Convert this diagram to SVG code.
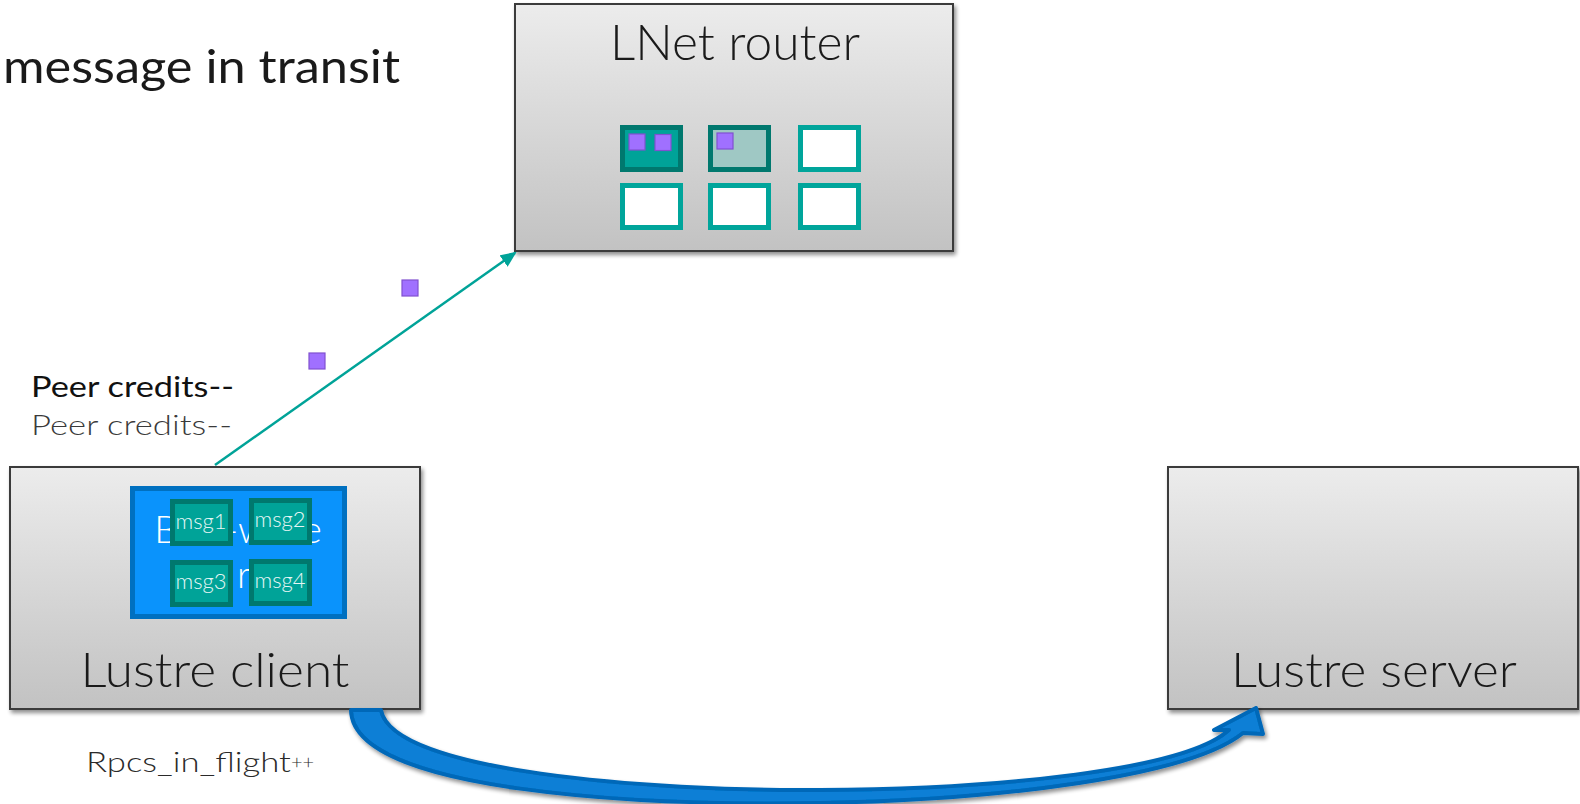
<svg xmlns="http://www.w3.org/2000/svg" width="1580" height="804" viewBox="0 0 1580 804">
<style>
text{font-family:Lato,"Open Sans","Liberation Sans",sans-serif;}
.big{font-size:47px;font-weight:300;fill:#1a1a1a;}
.box{stroke:#3a3a3a;stroke-width:2;fill:url(#g);}
.slotA{fill:#00a398;stroke:#00786e;stroke-width:5;}
.slotB{fill:#9fc8c4;stroke:#00786e;stroke-width:5;}
.slotE{fill:#ffffff;stroke:#00a59b;stroke-width:5;}
.pu{fill:#a070ff;stroke:#8050d0;stroke-width:1.2;}
.msg{fill:#00a398;stroke:#00786e;stroke-width:5;}
.mt{font-size:22px;fill:#e6f6f4;text-anchor:middle;font-weight:300;}
</style>
<defs>
<linearGradient id="g" x1="0" y1="0" x2="0" y2="1">
<stop offset="0" stop-color="#ececec"/>
<stop offset="1" stop-color="#c2c2c2"/>
</linearGradient>
<filter id="sh" x="-5%" y="-5%" width="115%" height="115%">
<feGaussianBlur in="SourceAlpha" stdDeviation="2"/>
<feOffset dx="2" dy="3" result="b"/>
<feComponentTransfer><feFuncA type="linear" slope="0.45"/></feComponentTransfer>
<feMerge><feMergeNode/><feMergeNode in="SourceGraphic"/></feMerge>
</filter>
<marker id="ah" markerWidth="16" markerHeight="14" refX="14" refY="7" orient="auto" markerUnits="userSpaceOnUse" viewBox="0 0 16 14">
<path d="M0,0 L16,7 L0,14 Z" fill="#00a398"/>
</marker>
</defs>
<rect width="1580" height="804" fill="#ffffff"/>

<text x="3" y="83" class="big" style="font-weight:400" textLength="397" lengthAdjust="spacingAndGlyphs">message in transit</text>

<g id="lnet-router">
<rect x="515" y="4" width="438" height="247" class="box" filter="url(#sh)"/>
<text x="735" y="60" class="big" text-anchor="middle" style="font-size:49px" textLength="250" lengthAdjust="spacingAndGlyphs">LNet router</text>
<rect x="622.5" y="127.5" width="58" height="42" class="slotA"/>
<rect x="710.5" y="127.5" width="58" height="42" class="slotB"/>
<rect x="800.5" y="127.5" width="58" height="42" class="slotE"/>
<rect x="622.5" y="185.5" width="58" height="42" class="slotE"/>
<rect x="710.5" y="185.5" width="58" height="42" class="slotE"/>
<rect x="800.5" y="185.5" width="58" height="42" class="slotE"/>
<rect x="629" y="134" width="16" height="16" class="pu"/>
<rect x="655" y="134.5" width="16" height="16" class="pu"/>
<rect x="717" y="133" width="16" height="16" class="pu"/>
</g>

<g id="lustre-client">
<rect x="10" y="467" width="410" height="242" class="box" filter="url(#sh)"/>
<rect x="132.5" y="488.5" width="212" height="128" fill="#0a93fc" stroke="#0070c0" stroke-width="5"/>
<text x="238" y="543" font-size="38" font-weight="300" fill="#ffffff" text-anchor="middle">Bulk-write</text>
<text x="237" y="588" font-size="38" font-weight="300" fill="#ffffff">rpc</text>
<rect x="172.5" y="501.5" width="58" height="42" class="msg"/>
<rect x="251.5" y="500.5" width="58" height="42" class="msg"/>
<rect x="172.5" y="562.5" width="58" height="42" class="msg"/>
<rect x="251.5" y="561.5" width="58" height="42" class="msg"/>
<text x="201" y="529" class="mt">msg1</text>
<text x="280" y="527" class="mt">msg2</text>
<text x="201" y="589" class="mt">msg3</text>
<text x="280" y="588" class="mt">msg4</text>
<text x="215" y="687" class="big" text-anchor="middle" textLength="269" lengthAdjust="spacingAndGlyphs">Lustre client</text>
</g>

<g id="lustre-server">
<rect x="1168" y="467" width="410" height="242" class="box" filter="url(#sh)"/>
<text x="1374" y="687" class="big" text-anchor="middle" textLength="286" lengthAdjust="spacingAndGlyphs">Lustre server</text>
</g>

<g id="packets">
<rect x="402" y="280" width="16" height="16" class="pu"/>
<rect x="309" y="353" width="16" height="16" class="pu"/>
</g>

<g id="labels">
<text x="31" y="397" font-size="28" fill="#111111" textLength="203" lengthAdjust="spacingAndGlyphs">Peer credits--</text>
<text x="31" y="435" font-size="28" font-weight="300" fill="#3a3a3a" textLength="201" lengthAdjust="spacingAndGlyphs">Peer credits--</text>
<text x="86" y="772" font-size="28" font-weight="300" fill="#2a2a2a"><tspan textLength="205" lengthAdjust="spacingAndGlyphs">Rpcs_in_flight</tspan><tspan font-size="20" dy="-3">++</tspan></text>
</g>

<g id="connectors">
<line x1="215" y1="465" x2="515" y2="253" stroke="#00a398" stroke-width="2.5" marker-end="url(#ah)"/>
<path d="M351,710 C352,792 640,806 820,803 C1000,800 1190,776 1243,733 L1263,734 L1256,708 L1214,730 L1229,730 C1185,770 1000,789 820,790 C650,791 392,772 381,710 Z" fill="#0a7fd6" stroke="#0068b8" stroke-width="4" stroke-linejoin="round" filter="url(#sh)"/>
</g>
</svg>
